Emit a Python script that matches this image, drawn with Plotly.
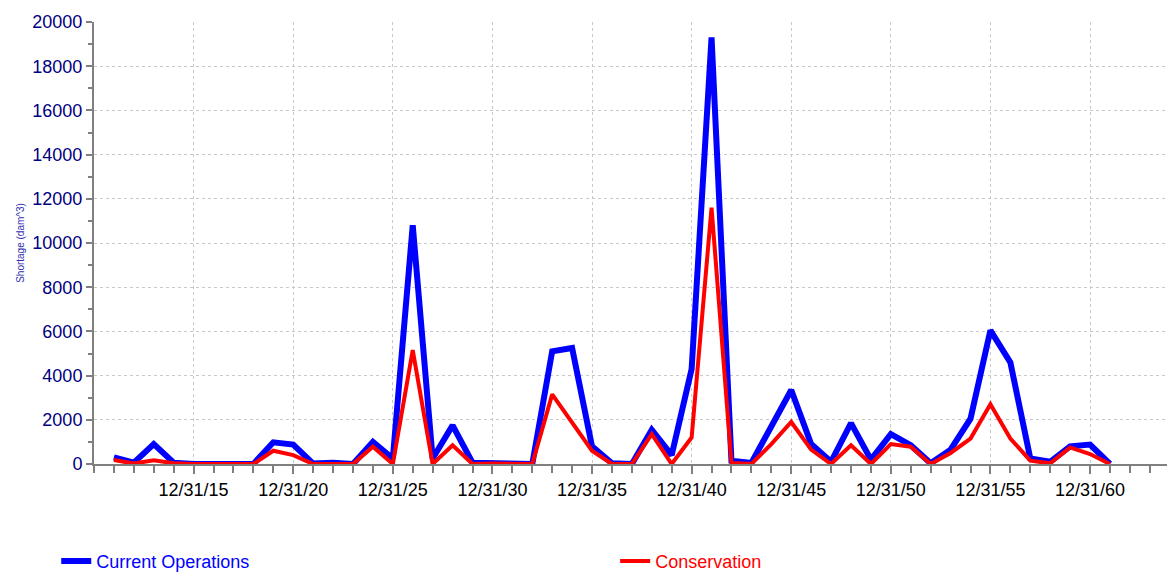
import plotly.graph_objects as go

# annual shortage values, end of each year 1911..1961
years = list(range(1911, 1962))
dates = ["%d-12-31" % y for y in years]

current_ops = [300, 60, 900, 60, 0, 0, 0, 0, 980, 880,
               20, 60, 0, 1000, 250, 10800, 250, 1750, 60, 50,
               0, 0, 5100, 5250, 800, 30, 0, 1550, 400, 4300,
               19300, 150, 50, 1650, 3350, 900, 100, 1850, 200, 1350,
               850, 30, 650, 2050, 6050, 4600, 250, 100, 800, 880,
               0]
conservation = [180, 20, 170, 30, 0, 0, 0, 0, 600, 400,
                0, 0, 0, 780, 0, 5150, 0, 850, 0, 20,
                0, 0, 3150, 1900, 600, 0, 0, 1350, 0, 1200,
                11600, 50, 0, 900, 1900, 650, 0, 850, 0, 900,
                780, 0, 500, 1150, 2700, 1150, 150, 30, 750, 450,
                0]

tick_dates = ["%d-12-31" % y for y in range(1915, 1961, 5)]

fig = go.Figure()
fig.add_trace(go.Scatter(x=dates, y=current_ops, mode="lines",
                         name="<span style='color:#0000ff'>Current Operations</span>",
                         line=dict(color="#0000ff", width=6), legend="legend"))
fig.add_trace(go.Scatter(x=dates, y=conservation, mode="lines",
                         name="<span style='color:#ff0000'>Conservation</span>",
                         line=dict(color="#ff0000", width=4), legend="legend2"))

# two one-item legends under the plot, margins fixed so they don't push
leg = dict(xanchor="left", yanchor="middle", y=-0.22,
           font=dict(size=18), bgcolor="rgba(0,0,0,0)")

fig.update_layout(
    width=1175, height=573,
    margin=dict(l=86, r=10, t=14, b=117, autoexpand=False),
    paper_bgcolor="white", plot_bgcolor="white",
    font=dict(family="Liberation Sans, Arial, sans-serif"),
    showlegend=True,
    legend=dict(leg, x=-0.035),
    legend2=dict(leg, x=0.483),
)

fig.update_xaxes(
    type="date", range=["1910-12-31", "1965-03-01"],
    tickvals=tick_dates, tickformat="%m/%d/%y",
    tickfont=dict(size=18, color="black"),
    ticks="outside", ticklen=8, tickcolor="#808080", tickwidth=2,
    showline=True, linecolor="#808080", linewidth=2,
    showgrid=True, gridcolor="#c8c8c8", griddash="3px,3px", gridwidth=1,
    minor=dict(dtick="M12", tick0="1910-12-31", ticks="outside", ticklen=7,
               tickcolor="#808080", tickwidth=2, showgrid=False),
    zeroline=False, automargin=False,
)
fig.update_yaxes(
    range=[0, 20000], dtick=2000, tick0=0, tickformat="d",
    tickfont=dict(size=18, color="#000080"),
    ticks="outside", ticklen=6, tickcolor="#808080", tickwidth=2,
    showline=True, linecolor="#808080", linewidth=2,
    showgrid=True, gridcolor="#c8c8c8", griddash="3px,3px", gridwidth=1,
    minor=dict(dtick=1000, ticks="outside", ticklen=4, tickcolor="#808080",
               tickwidth=2, showgrid=False),
    zeroline=False, automargin=False,
    title=dict(text="Shortage (dam^3)", font=dict(size=10, color="#3030b0"), standoff=6),
)

fig.write_html("out.html")
